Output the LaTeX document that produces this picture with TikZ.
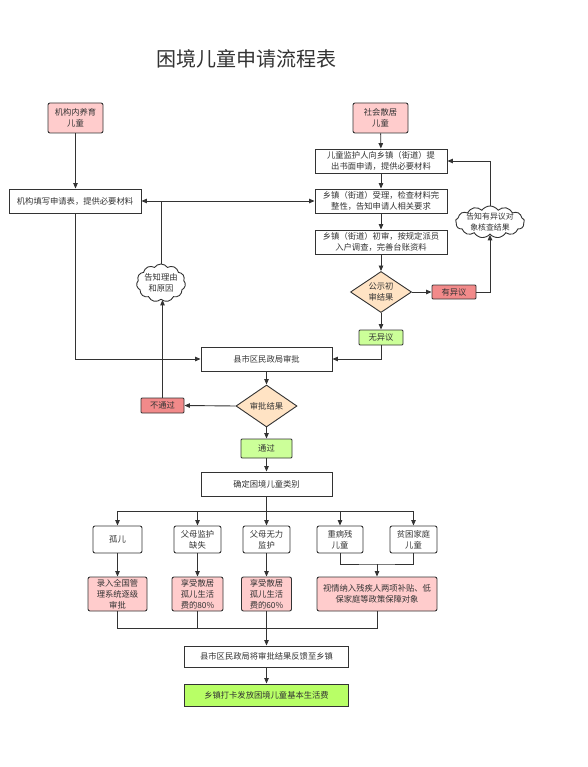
\documentclass[tikz,border=0pt]{standalone}
\usepackage{fontspec}
\newfontfamily\cjk{Noto Sans CJK SC}
\usetikzlibrary{arrows.meta,shapes.geometric,shapes.symbols}
\definecolor{ln}{HTML}{333333}
\definecolor{txt}{HTML}{333333}
\definecolor{pinkf}{HTML}{FFCCCC}
\definecolor{redf}{HTML}{F28A8A}
\definecolor{peach}{HTML}{FFE3C4}
\definecolor{greenf}{HTML}{CCFF99}
\definecolor{greenb}{HTML}{B8FF66}
\tikzset{
  base/.style={draw=ln, line width=0.9pt, text=txt, align=center, inner sep=0pt,
    font=\cjk\fontsize{8.3}{11}\selectfont},
  box/.style={base, rectangle, fill=white},
  rbox/.style={box, rounded corners=2pt},
  pinkbox/.style={rbox, fill=pinkf},
  redbox/.style={box, fill=redf, rounded corners=1pt},
  greenbox/.style={box, fill=greenf, rounded corners=1pt},
  dia/.style={base, diamond, fill=peach, aspect=1.5},
  cloudbox/.style={base, cloud, cloud puffs=11, cloud puff arc=110, fill=white, aspect=1.4},
  cloudtext/.style={text=txt, align=center, inner sep=0pt, font=\cjk\fontsize{7.9}{10.5}\selectfont},
  conn/.style={draw=ln, line width=0.9pt},
  arr/.style={conn, -{Triangle[length=5.5pt,width=4.5pt]}}
}
\begin{document}
\begin{tikzpicture}[x=1pt,y=-1pt]
\useasboundingbox (0,0) rectangle (587,767);
% title
\node[font=\cjk\fontsize{20}{24}\selectfont, text=txt] (title) at (246.5,59) {困境儿童申请流程表};

% left column
\node[pinkbox, minimum width=55pt, minimum height=30pt] (inst) at (75.5,118) {机构内养育\\儿童};
\node[box, minimum width=132pt, minimum height=24pt] (fill) at (75,201) {机构填写申请表，提供必要材料};
\node[cloudbox, inner xsep=-4pt, inner ysep=-3pt, minimum width=49pt, minimum height=38pt] (cl1) at (161,283) {告知理由\\和原因};

% right column
\node[pinkbox, minimum width=55pt, minimum height=30pt] (soc) at (380.5,118) {社会散居\\儿童};
\node[box, minimum width=132pt, minimum height=24pt] (guard) at (381,161) {儿童监护人向乡镇（街道）提\\出书面申请，提供必要材料};
\node[box, minimum width=132pt, minimum height=24pt] (acc) at (381,201) {乡镇（街道）受理，检查材料完\\整性，告知申请人相关要求};
\node[box, minimum width=132pt, minimum height=24pt] (pre) at (381,242) {乡镇（街道）初审，按规定派员\\入户调查，完善台账资料};
\node[dia, minimum width=61pt, minimum height=41pt] (pub) at (381,292) {公示初\\审结果};
\node[redbox, minimum width=44pt, minimum height=14pt] (obj) at (454,292) {有异议};
\node[cloudbox, cloud puffs=13, aspect=2.2, minimum width=69pt, minimum height=32pt,
  label={[cloudtext]center:告知有异议对\\象核查结果}] (cl2) at (490,222) {};
\node[greenbox, minimum width=44pt, minimum height=15pt] (noobj) at (381,337.5) {无异议};

% middle
\node[box, minimum width=131pt, minimum height=24pt] (county) at (266.5,359) {县市区民政局审批};
\node[dia, minimum width=61pt, minimum height=42pt] (res) at (266.5,406) {审批结果};
\node[redbox, minimum width=43pt, minimum height=15pt] (fail) at (162.5,405.5) {不通过};
\node[greenbox, minimum width=51pt, minimum height=19pt] (pass) at (266.5,448.5) {通过};
\node[box, minimum width=131pt, minimum height=24pt] (cat) at (266.5,484) {确定困境儿童类别};

% categories
\node[rbox, minimum width=49pt, minimum height=27pt] (c1) at (117.5,539.5) {孤儿};
\node[rbox, minimum width=47pt, minimum height=27pt] (c2) at (197.5,539.5) {父母监护\\缺失};
\node[rbox, minimum width=47pt, minimum height=27pt] (c3) at (266.5,539.5) {父母无力\\监护};
\node[rbox, minimum width=46pt, minimum height=27pt] (c4) at (340,539.5) {重病残\\儿童};
\node[rbox, minimum width=47pt, minimum height=27pt] (c5) at (413.5,539.5) {贫困家庭\\儿童};

% results
\node[pinkbox, minimum width=59pt, minimum height=34pt] (r1) at (117.5,594) {录入全国管\\理系统逐级\\审批};
\node[pinkbox, minimum width=51pt, minimum height=34pt] (r2) at (197.5,594) {享受散居\\孤儿生活\\费的80\%};
\node[pinkbox, minimum width=50pt, minimum height=34pt] (r3) at (266.5,594) {享受散居\\孤儿生活\\费的60\%};
\node[pinkbox, minimum width=120pt, minimum height=34pt] (r4) at (377,594) {视情纳入残疾人两项补贴、低\\保家庭等政策保障对象};

\node[box, minimum width=164pt, minimum height=21pt] (fb) at (266.5,656.5) {县市区民政局将审批结果反馈至乡镇};
\node[box, fill=greenb, minimum width=164pt, minimum height=22pt] (pay) at (266.5,695) {乡镇打卡发放困境儿童基本生活费};

% connectors left
\draw[arr] (inst.south) -- (inst.south |- fill.north);
\draw[arr] (fill.south) |- (county.west);
\draw[arr] (fail.north) -- (fail.north |- cl1.south);
\draw[conn] (cl1.north) -- (cl1.north |- fill.east) coordinate (j1);
\draw[arr] (j1) -- (fill.east);
\draw[arr] (j1) -- (acc.west);

% connectors right
\draw[arr] (soc) -- (guard);
\draw[arr] (guard) -- (acc);
\draw[arr] (acc) -- (pre);
\draw[arr] (pre) -- (pub);
\draw[arr] (pub) -- (noobj);
\draw[arr] (pub.east) -- (obj.west);
\draw[arr] (obj.east) -| (cl2.south);
\draw[arr] (cl2.north) |- (guard.east);
\draw[arr] (noobj.south) |- (county.east);

% middle
\draw[arr] (county) -- (res);
\draw[arr] (res.west) -- (fail.east);
\draw[arr] (res) -- (pass);
\draw[arr] (pass) -- (cat);

% categories
\coordinate (bus) at (266.5,511);
\draw[arr] (cat) -- (c3);
\draw[arr] (bus) -| (c1.north);
\draw[arr] (bus) -| (c2.north);
\draw[arr] (bus) -| (c4.north);
\draw[arr] (bus) -| (c5.north);
\draw[arr] (c1) -- (r1);
\draw[arr] (c2) -- (r2);
\draw[arr] (c3) -- (r3);
\coordinate (j2) at (377,564);
\draw[conn] (c4.south) |- (j2) -| (c5.south);
\draw[arr] (j2) -- (r4.north);

% merge
\coordinate (m) at (266.5,628);
\draw[conn] (r1.south) |- (m);
\draw[conn] (r4.south) |- (m);
\draw[conn] (r2.south) -- (r2.south |- m);
\draw[arr] (r3) -- (fb);
\draw[arr] (fb) -- (pay);
\end{tikzpicture}
\end{document}
